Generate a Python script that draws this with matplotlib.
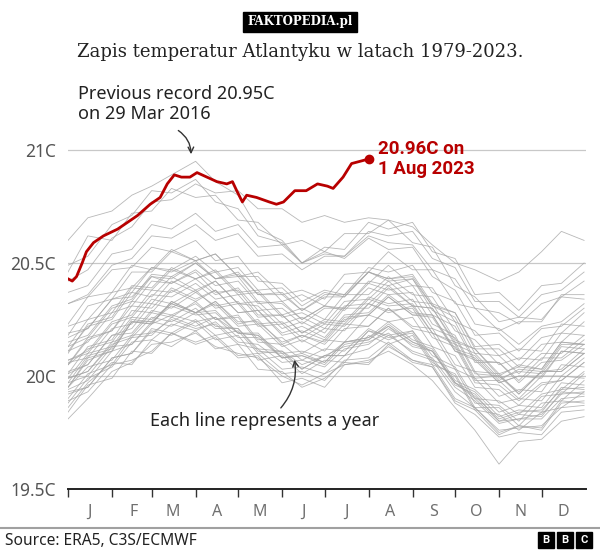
import matplotlib
matplotlib.use('Agg')
import matplotlib.pyplot as plt
from matplotlib.patches import Rectangle

# day of year for the sampled gray-line points (roughly every half month)
days = [0, 14, 31, 45, 59, 73, 90, 104, 120, 134, 151, 165, 181, 195, 212, 226,
        243, 257, 273, 287, 304, 318, 334, 348, 364]

y1979 = [19.95, 20.04, 20.07, 20.18, 20.19, 20.25, 20.21, 20.23, 20.14, 20.12, 20.03, 20.04, 20.01, 20.09, 20.12, 20.18, 20.11, 20.08, 19.95, 19.89, 19.79, 19.81, 19.83, 19.92, 19.93]
y1980 = [19.99, 20.02, 20.14, 20.17, 20.26, 20.24, 20.30, 20.22, 20.21, 20.12, 20.11, 20.05, 20.09, 20.13, 20.15, 20.19, 20.10, 20.07, 19.93, 19.86, 19.76, 19.77, 19.78, 19.86, 19.87]
y1981 = [19.88, 19.99, 20.04, 20.15, 20.16, 20.23, 20.20, 20.24, 20.15, 20.14, 20.06, 20.07, 20.04, 20.12, 20.14, 20.21, 20.14, 20.11, 19.97, 19.91, 19.81, 19.84, 19.85, 19.94, 19.95]
y1982 = [19.81, 19.90, 20.02, 20.06, 20.14, 20.15, 20.19, 20.13, 20.10, 20.08, 20.00, 19.96, 20.01, 20.05, 20.07, 20.11, 20.05, 19.98, 19.86, 19.76, 19.61, 19.71, 19.72, 19.80, 19.82]
y1983 = [19.94, 19.98, 20.11, 20.14, 20.23, 20.27, 20.24, 20.26, 20.19, 20.18, 20.10, 20.11, 20.08, 20.15, 20.17, 20.22, 20.15, 20.11, 19.97, 19.90, 19.80, 19.81, 19.81, 19.90, 19.91]
y1984 = [19.86, 19.97, 20.06, 20.05, 20.16, 20.13, 20.20, 20.12, 20.14, 20.03, 20.02, 19.95, 19.99, 20.06, 20.05, 20.14, 20.06, 20.04, 19.89, 19.85, 19.74, 19.78, 19.76, 19.88, 19.89]
y1985 = [19.89, 19.93, 20.05, 20.07, 20.11, 20.19, 20.15, 20.18, 20.09, 20.10, 20.01, 20.02, 19.98, 20.07, 20.08, 20.15, 20.07, 20.04, 19.88, 19.83, 19.73, 19.75, 19.74, 19.84, 19.85]
y1986 = [19.92, 19.95, 20.08, 20.10, 20.21, 20.19, 20.25, 20.18, 20.20, 20.10, 20.11, 20.03, 20.09, 20.09, 20.20, 20.16, 20.20, 20.07, 20.03, 19.88, 19.87, 19.80, 19.91, 19.92, 20.01]
y1987 = [19.99, 20.02, 20.15, 20.18, 20.28, 20.26, 20.33, 20.25, 20.27, 20.16, 20.17, 20.10, 20.16, 20.15, 20.27, 20.24, 20.26, 20.13, 20.09, 19.95, 19.94, 19.87, 19.96, 19.98, 20.06]
y1988 = [20.05, 20.12, 20.15, 20.26, 20.25, 20.32, 20.28, 20.29, 20.19, 20.18, 20.08, 20.09, 20.05, 20.14, 20.16, 20.22, 20.13, 20.11, 19.96, 19.92, 19.80, 19.83, 19.82, 19.93, 19.92]
y1989 = [19.90, 20.01, 20.05, 20.17, 20.18, 20.26, 20.22, 20.26, 20.17, 20.17, 20.08, 20.09, 20.06, 20.15, 20.17, 20.24, 20.16, 20.13, 19.98, 19.94, 19.84, 19.87, 19.86, 19.97, 19.96]
y1990 = [19.95, 20.07, 20.11, 20.24, 20.23, 20.33, 20.28, 20.33, 20.24, 20.24, 20.15, 20.18, 20.14, 20.23, 20.22, 20.30, 20.21, 20.19, 20.03, 19.99, 19.88, 19.90, 19.89, 20.00, 19.99]
y1991 = [20.02, 20.05, 20.18, 20.19, 20.29, 20.27, 20.32, 20.25, 20.26, 20.15, 20.14, 20.07, 20.12, 20.11, 20.21, 20.17, 20.19, 20.06, 20.00, 19.85, 19.83, 19.76, 19.84, 19.86, 19.93]
y1992 = [19.84, 19.96, 19.99, 20.11, 20.10, 20.19, 20.14, 20.17, 20.08, 20.09, 19.97, 19.99, 19.95, 20.05, 20.06, 20.13, 20.07, 20.05, 19.90, 19.86, 19.75, 19.78, 19.77, 19.89, 19.88]
y1993 = [19.93, 19.95, 20.08, 20.10, 20.20, 20.18, 20.24, 20.16, 20.18, 20.07, 20.09, 20.01, 20.07, 20.06, 20.18, 20.14, 20.18, 20.05, 20.01, 19.86, 19.86, 19.78, 19.88, 19.89, 19.98]
y1994 = [19.97, 20.00, 20.13, 20.14, 20.24, 20.22, 20.28, 20.21, 20.21, 20.11, 20.10, 20.03, 20.09, 20.09, 20.20, 20.18, 20.20, 20.09, 20.04, 19.90, 19.89, 19.83, 19.92, 19.94, 20.02]
y1995 = [20.01, 20.05, 20.18, 20.21, 20.32, 20.30, 20.37, 20.31, 20.33, 20.23, 20.24, 20.17, 20.23, 20.22, 20.32, 20.29, 20.30, 20.17, 20.13, 19.97, 19.96, 19.89, 19.97, 19.98, 20.06]
y1996 = [19.99, 20.10, 20.13, 20.25, 20.24, 20.31, 20.27, 20.28, 20.19, 20.19, 20.08, 20.10, 20.06, 20.15, 20.16, 20.23, 20.15, 20.12, 19.97, 19.93, 19.82, 19.85, 19.84, 19.95, 19.94]
y1997 = [19.95, 20.08, 20.11, 20.24, 20.23, 20.33, 20.28, 20.33, 20.23, 20.25, 20.14, 20.18, 20.15, 20.25, 20.27, 20.35, 20.27, 20.27, 20.12, 20.09, 19.98, 20.03, 20.02, 20.14, 20.14]
y1998 = [20.22, 20.25, 20.37, 20.39, 20.48, 20.46, 20.51, 20.43, 20.44, 20.33, 20.32, 20.25, 20.31, 20.29, 20.39, 20.36, 20.37, 20.23, 20.18, 20.02, 20.01, 19.92, 20.02, 20.02, 20.10]
y1999 = [20.06, 20.08, 20.21, 20.23, 20.34, 20.32, 20.38, 20.30, 20.32, 20.22, 20.23, 20.15, 20.21, 20.20, 20.32, 20.28, 20.31, 20.19, 20.15, 19.99, 20.00, 19.92, 20.02, 20.03, 20.12]
y2000 = [19.97, 20.09, 20.12, 20.24, 20.24, 20.32, 20.28, 20.32, 20.22, 20.23, 20.13, 20.16, 20.11, 20.21, 20.22, 20.30, 20.22, 20.21, 20.05, 20.02, 19.91, 19.94, 19.93, 20.05, 20.04]
y2001 = [20.07, 20.10, 20.23, 20.26, 20.36, 20.35, 20.41, 20.34, 20.36, 20.26, 20.27, 20.19, 20.25, 20.24, 20.35, 20.32, 20.34, 20.21, 20.17, 20.01, 20.00, 19.93, 20.02, 20.02, 20.10]
y2002 = [20.05, 20.16, 20.20, 20.31, 20.30, 20.39, 20.34, 20.38, 20.28, 20.29, 20.18, 20.20, 20.16, 20.26, 20.27, 20.35, 20.27, 20.26, 20.11, 20.07, 19.97, 20.00, 20.00, 20.11, 20.10]
y2003 = [20.11, 20.15, 20.28, 20.31, 20.42, 20.41, 20.47, 20.40, 20.42, 20.32, 20.33, 20.25, 20.31, 20.30, 20.41, 20.38, 20.40, 20.27, 20.22, 20.06, 20.06, 19.98, 20.08, 20.08, 20.16]
y2004 = [20.11, 20.22, 20.25, 20.37, 20.35, 20.44, 20.38, 20.42, 20.32, 20.31, 20.21, 20.24, 20.19, 20.30, 20.30, 20.39, 20.31, 20.30, 20.15, 20.12, 20.00, 20.05, 20.03, 20.15, 20.14]
y2005 = [20.17, 20.21, 20.34, 20.37, 20.48, 20.47, 20.53, 20.46, 20.48, 20.38, 20.39, 20.31, 20.37, 20.35, 20.46, 20.43, 20.44, 20.31, 20.26, 20.10, 20.09, 20.01, 20.10, 20.10, 20.18]
y2006 = [20.10, 20.23, 20.26, 20.39, 20.38, 20.47, 20.43, 20.47, 20.37, 20.38, 20.27, 20.30, 20.25, 20.36, 20.36, 20.44, 20.36, 20.35, 20.20, 20.16, 20.05, 20.08, 20.07, 20.19, 20.18]
y2007 = [20.19, 20.21, 20.34, 20.35, 20.44, 20.41, 20.46, 20.37, 20.38, 20.27, 20.27, 20.19, 20.24, 20.23, 20.34, 20.31, 20.32, 20.19, 20.14, 19.98, 19.98, 19.90, 20.00, 20.00, 20.08]
y2008 = [20.01, 20.13, 20.16, 20.29, 20.28, 20.38, 20.33, 20.38, 20.28, 20.29, 20.19, 20.22, 20.17, 20.27, 20.28, 20.36, 20.28, 20.27, 20.11, 20.08, 19.97, 20.00, 19.99, 20.11, 20.10]
y2009 = [20.07, 20.11, 20.24, 20.27, 20.38, 20.37, 20.43, 20.36, 20.39, 20.29, 20.30, 20.23, 20.30, 20.30, 20.42, 20.40, 20.43, 20.31, 20.28, 20.13, 20.14, 20.07, 20.17, 20.19, 20.28]
y2010 = [20.32, 20.35, 20.47, 20.48, 20.57, 20.55, 20.60, 20.51, 20.53, 20.42, 20.41, 20.33, 20.38, 20.36, 20.46, 20.42, 20.43, 20.29, 20.24, 20.07, 20.06, 19.97, 20.06, 20.07, 20.14]
y2011 = [20.05, 20.17, 20.20, 20.33, 20.32, 20.42, 20.37, 20.42, 20.32, 20.33, 20.23, 20.26, 20.21, 20.31, 20.32, 20.40, 20.31, 20.30, 20.14, 20.10, 19.99, 20.02, 20.01, 20.13, 20.12]
y2012 = [20.13, 20.17, 20.30, 20.33, 20.44, 20.43, 20.50, 20.43, 20.45, 20.36, 20.36, 20.29, 20.35, 20.35, 20.46, 20.43, 20.45, 20.32, 20.28, 20.12, 20.12, 20.04, 20.14, 20.15, 20.24]
y2013 = [20.13, 20.25, 20.28, 20.40, 20.39, 20.48, 20.43, 20.46, 20.36, 20.37, 20.26, 20.28, 20.23, 20.33, 20.34, 20.42, 20.33, 20.32, 20.16, 20.12, 20.01, 20.04, 20.03, 20.15, 20.14]
y2014 = [20.15, 20.18, 20.31, 20.34, 20.45, 20.44, 20.50, 20.43, 20.46, 20.36, 20.37, 20.29, 20.36, 20.36, 20.48, 20.46, 20.49, 20.37, 20.33, 20.18, 20.19, 20.11, 20.21, 20.22, 20.30]
y2015 = [20.18, 20.31, 20.34, 20.46, 20.46, 20.55, 20.51, 20.54, 20.44, 20.46, 20.36, 20.38, 20.34, 20.45, 20.46, 20.55, 20.47, 20.47, 20.32, 20.30, 20.20, 20.24, 20.24, 20.36, 20.36]
y2016 = [20.60, 20.70, 20.73, 20.80, 20.84, 20.89, 20.95, 20.86, 20.80, 20.65, 20.60, 20.50, 20.54, 20.53, 20.62, 20.59, 20.58, 20.47, 20.43, 20.30, 20.28, 20.23, 20.32, 20.35, 20.42]
y2017 = [20.49, 20.53, 20.67, 20.71, 20.82, 20.81, 20.87, 20.77, 20.74, 20.62, 20.59, 20.50, 20.55, 20.52, 20.61, 20.56, 20.57, 20.44, 20.38, 20.23, 20.21, 20.14, 20.22, 20.24, 20.32]
y2018 = [20.23, 20.35, 20.37, 20.49, 20.47, 20.56, 20.51, 20.54, 20.44, 20.44, 20.33, 20.36, 20.31, 20.41, 20.41, 20.49, 20.40, 20.39, 20.24, 20.20, 20.09, 20.12, 20.11, 20.23, 20.22]
y2019 = [20.32, 20.36, 20.49, 20.52, 20.62, 20.61, 20.67, 20.60, 20.63, 20.53, 20.54, 20.47, 20.53, 20.53, 20.64, 20.62, 20.64, 20.52, 20.48, 20.33, 20.33, 20.26, 20.36, 20.38, 20.46]
y2020 = [20.46, 20.62, 20.60, 20.72, 20.73, 20.83, 20.79, 20.80, 20.69, 20.68, 20.58, 20.60, 20.55, 20.63, 20.63, 20.69, 20.59, 20.57, 20.40, 20.35, 20.24, 20.26, 20.25, 20.35, 20.34]
y2021 = [20.37, 20.40, 20.54, 20.56, 20.67, 20.65, 20.72, 20.64, 20.67, 20.57, 20.58, 20.50, 20.57, 20.56, 20.68, 20.65, 20.68, 20.55, 20.52, 20.36, 20.37, 20.29, 20.40, 20.41, 20.50]
y2022 = [20.42, 20.47, 20.61, 20.66, 20.77, 20.78, 20.85, 20.81, 20.82, 20.74, 20.74, 20.68, 20.71, 20.68, 20.70, 20.69, 20.66, 20.58, 20.50, 20.47, 20.42, 20.46, 20.55, 20.64, 20.60]

past_years = [y1979, y1980, y1981, y1982, y1983, y1984, y1985, y1986, y1987, y1988,
              y1989, y1990, y1991, y1992, y1993, y1994, y1995, y1996, y1997, y1998,
              y1999, y2000, y2001, y2002, y2003, y2004, y2005, y2006, y2007, y2008,
              y2009, y2010, y2011, y2012, y2013, y2014, y2015, y2016, y2017, y2018,
              y2019, y2020, y2021, y2022]

# 2023 up to 1 Aug
days_2023 = [0, 3, 6, 10, 13, 18, 25, 35, 42, 49, 58, 65, 70, 75, 80, 86, 91, 98, 105,
             112, 116, 119, 123, 126, 133, 142, 147, 152, 160, 168, 176, 183, 187, 194,
             200, 206, 212]
temp_2023 = [20.43, 20.42, 20.44, 20.50, 20.55, 20.59, 20.62, 20.65, 20.68, 20.71, 20.76,
             20.79, 20.85, 20.89, 20.88, 20.88, 20.90, 20.88, 20.86, 20.85, 20.86, 20.82,
             20.77, 20.80, 20.79, 20.77, 20.76, 20.77, 20.82, 20.82, 20.85, 20.84, 20.83,
             20.88, 20.94, 20.95, 20.96]

month_starts = [0, 31, 59, 90, 120, 151, 181, 212, 243, 273, 304, 334]
month_labels = ['J', 'F', 'M', 'A', 'M', 'J', 'J', 'A', 'S', 'O', 'N', 'D']
y_ticks = [19.5, 20, 20.5, 21]
y_labels = ['19.5C', '20C', '20.5C', '21C']

SANS = ['Noto Sans', 'DejaVu Sans']
BOLD = ['Roboto', 'DejaVu Sans']
plt.rcParams['font.family'] = SANS
RED = '#b80000'

W, H = 600, 551


def fx(px):
    return px / W


def fy(py):
    return 1 - py / H


fig = plt.figure(figsize=(W / 100, H / 100), dpi=100)
ax = fig.add_axes([fx(68), fy(489), 517.5 / W, 361.6 / H])

for g in [20, 20.5, 21]:
    ax.axhline(g, color='#c8c8c8', lw=0.9, zorder=0)

for yr in past_years:
    ax.plot(days, yr, color='#a6a6a6', lw=0.6, alpha=0.8, zorder=2)

ax.plot(days_2023, temp_2023, color=RED, lw=2, zorder=5, solid_joinstyle='round')
ax.plot(days_2023[-1], temp_2023[-1], 'o', color=RED, ms=6, zorder=6)

ax.set_xlim(0, 365)
ax.set_ylim(19.5, 21.1)
for s in ['top', 'right', 'left']:
    ax.spines[s].set_visible(False)
ax.spines['bottom'].set_color('#222222')
ax.spines['bottom'].set_linewidth(1.4)

ax.set_xticks(month_starts)
ax.set_xticklabels([])
ax.tick_params(axis='x', which='major', length=6, width=1, color='#333333')
ax.set_xticks([d + 15 for d in month_starts], minor=True)
ax.set_xticklabels(month_labels, minor=True)
ax.tick_params(axis='x', which='minor', length=0, pad=11, labelsize=11.5,
               labelcolor='#707070')
ax.set_yticks(y_ticks)
ax.set_yticklabels(y_labels)
ax.tick_params(axis='y', length=0, pad=9, labelsize=12.5, labelcolor='#555555')

# header
fig.patches.append(Rectangle((fx(243), fy(32)), 114 / W, 20 / H, color='black',
                             transform=fig.transFigure, figure=fig))
fig.text(fx(300), fy(22), 'FAKTOPEDIA.pl', color='white', fontsize=8.5,
         fontweight='bold', family='DejaVu Serif', ha='center', va='center')
fig.text(fx(300), fy(52), 'Zapis temperatur Atlantyku w latach 1979-2023.',
         fontsize=13, family='DejaVu Serif', color='#222222', ha='center', va='center')

# annotations
fig.text(fx(78), fy(104), 'Previous record 20.95C\non 29 Mar 2016', fontsize=13,
         color='#222222', ha='left', va='center', linespacing=1.15)
ax.annotate('', xy=(fx(191), fy(157)), xytext=(fx(176), fy(129)),
            xycoords='figure fraction', textcoords='figure fraction',
            arrowprops=dict(arrowstyle='->', color='#333333', lw=1,
                            connectionstyle='arc3,rad=-0.3'))
fig.text(fx(378), fy(159), '20.96C on\n1 Aug 2023', fontsize=13.5, fontweight='bold',
         family=BOLD, color=RED, ha='left', va='center', linespacing=1.15)
fig.text(fx(150), fy(421), 'Each line represents a year', fontsize=13,
         color='#222222', ha='left', va='center')
ax.annotate('', xy=(fx(294), fy(357)), xytext=(fx(279), fy(410)),
            xycoords='figure fraction', textcoords='figure fraction',
            arrowprops=dict(arrowstyle='->', color='#333333', lw=1,
                            connectionstyle='arc3,rad=0.25'))

# footer
fig.add_artist(plt.Line2D([0, 1], [fy(528), fy(528)], color='#a0a0a0', lw=1.5,
                          transform=fig.transFigure))
fig.text(fx(5), fy(541), 'Source: ERA5, C3S/ECMWF', fontsize=11.2, color='#222222',
         ha='left', va='center')
for i, letter in enumerate('BBC'):
    x0 = 538 + i * 19
    fig.patches.append(Rectangle((fx(x0), fy(548)), 16 / W, 16 / H, color='black',
                                 transform=fig.transFigure, figure=fig))
    fig.text(fx(x0 + 8), fy(540), letter, color='white', fontsize=8,
             fontweight='bold', family=BOLD, ha='center', va='center')

fig.savefig('out.png', dpi=100)
